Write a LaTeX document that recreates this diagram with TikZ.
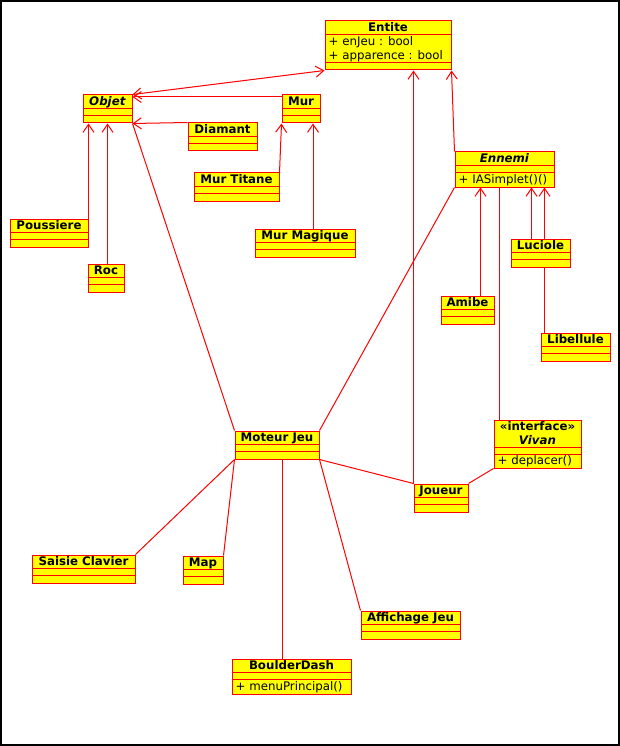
\documentclass[tikz,border=0pt]{standalone}
\usepackage{fontspec}
\setmainfont{DejaVu Sans}
\usetikzlibrary{arrows.meta,backgrounds}
\definecolor{jaune}{RGB}{255,255,0}
\tikzset{>={Straight Barb[length=8pt,width=11pt]}}
\tikzset{
  classe/.style={draw=red, fill=jaune, line width=1pt, inner sep=0pt, anchor=north west},
  titre/.style={anchor=north, font=\fontsize{11.8}{13.6}\selectfont\bfseries, inner sep=0pt, align=center},
  membre/.style={anchor=base west, inner sep=0pt},
  trait/.style={red, line width=1pt},
  lien/.style={red, line width=1pt},
}
% nom, coin, largeur, hauteur, titre, separations
\newcommand{\classeuml}[6]{%
  \node[classe, minimum width=#3, minimum height=#4] (#1) at #2 {};
  \node[titre] (#1-t) at ([yshift=-2]#1.north) {\rule{0pt}{9pt}#5};
  \foreach \s in {#6} \draw[trait] ([yshift=-\s]#1.north west) -- ([yshift=-\s]#1.north east);
}

\begin{document}
\begin{tikzpicture}[x=1pt, y=-1pt, font=\fontsize{11.8}{13.6}\selectfont]
\useasboundingbox (0,0) rectangle (620,746);
\draw[line width=1.2pt] (1,1) rectangle (619,745);

\classeuml{entite}{(324.5,20.5)}{126}{49}{Entite}{14,42}
\classeuml{objet}{(82.5,94.5)}{49}{28}{\textit{Objet}}{14,21}
\classeuml{mur}{(281.5,94.5)}{38}{28}{Mur}{14,21}
\classeuml{diamant}{(187.5,122.5)}{69}{28}{Diamant}{14,21}
\classeuml{murtitane}{(193.5,172.5)}{85}{28}{Mur Titane}{14,21}
\classeuml{murmagique}{(254.5,228.5)}{100}{28}{Mur Magique}{14,21}
\classeuml{poussiere}{(9.5,218.5)}{78}{28}{Poussiere}{14,21}
\classeuml{roc}{(87.5,263.5)}{36}{28}{Roc}{14,21}
\classeuml{ennemi}{(454.5,151.5)}{99}{35}{\textit{Ennemi}}{14,21}
\classeuml{luciole}{(510.5,238.5)}{59}{28}{Luciole}{14,21}
\classeuml{amibe}{(440.5,295.5)}{53}{28}{Amibe}{14,21}
\classeuml{libellule}{(540.5,332.5)}{69}{28}{Libellule}{14,21}
\classeuml{moteur}{(234.5,430.5)}{84}{28}{Moteur Jeu}{14,21}
\classeuml{joueur}{(413.5,483.5)}{54}{28}{Joueur}{14,21}
\classeuml{vivan}{(493.5,419.5)}{87}{48}{«interface»\\\textit{Vivan}}{28,35}
\classeuml{saisie}{(31.5,554.5)}{103}{28}{Saisie Clavier}{14,21}
\classeuml{map}{(182.5,555.5)}{40}{28}{Map}{14,21}
\classeuml{affichage}{(360.5,610.5)}{99}{28}{Affichage Jeu}{14,21}
\classeuml{boulder}{(231.5,658.5)}{119}{35}{BoulderDash}{14,21}

\node[membre] (entite-a1) at ([xshift=4,yshift=-25.5]entite.north west) {+ enJeu : bool};
\node[membre] (entite-a2) at ([xshift=4,yshift=-39.5]entite.north west) {+ apparence : bool};
\node[membre] (ennemi-m) at ([xshift=4,yshift=-32]ennemi.north west) {+ IASimplet()()};
\node[membre] (vivan-m) at ([xshift=4,yshift=-45]vivan.north west) {+ deplacer()};
\node[membre] (boulder-m) at ([xshift=4,yshift=-32]boulder.north west) {+ menuPrincipal()};

\begin{scope}[on background layer]
\coordinate (mo) at ([yshift=-2.5]mur.north west);
\coordinate (rr) at ([xshift=20]roc.north west);
\coordinate (mm) at ([xshift=-7.5]mur.south east);
\coordinate (am) at ([xshift=40]amibe.north west);
\coordinate (vi) at ([xshift=5.5]vivan.north west);
\coordinate (lu) at ([xshift=21]luciole.north west);
\coordinate (li) at ([xshift=4]libellule.north west);
\coordinate (bd) at ([xshift=48]moteur.south west);
\draw[lien,<->] (objet.north east) -- (entite.south west);
\draw[lien,->] (mo) -- (mo -| objet.east);
\draw[lien,->] (diamant.north west) -- (objet.south east);
\draw[lien,->] (poussiere.north east) -- (poussiere.north east |- objet.south);
\draw[lien,->] (rr) -- (rr |- objet.south);
\draw[lien] (objet.south east) -- (moteur.north west);
\draw[lien,->] (murtitane.north east) -- (mur.south west);
\draw[lien,->] (mm |- murmagique.north) -- (mm);
\draw[lien,->] (joueur.north west) -- (joueur.north west |- entite.south);
\draw[lien,->] (ennemi.north west) -- (entite.south east);
\draw[lien] (ennemi.south west) -- (moteur.north east);
\draw[lien,->] (am) -- (am |- ennemi.south);
\draw[lien] (vi) -- (vi |- ennemi.south);
\draw[lien,->] (lu) -- (lu |- ennemi.south);
\draw[lien,->] (li) -- (li |- ennemi.south);
\draw[lien] (moteur.south east) -- (joueur.north west);
\draw[lien] (joueur.north east) -- (vivan.south west);
\draw[lien] (moteur.south west) -- (saisie.north east);
\draw[lien] (moteur.south west) -- (map.north east);
\draw[lien] (bd) -- (bd |- boulder.north);
\draw[lien] (moteur.south east) -- (affichage.north west);
\end{scope}
\end{tikzpicture}
\end{document}
